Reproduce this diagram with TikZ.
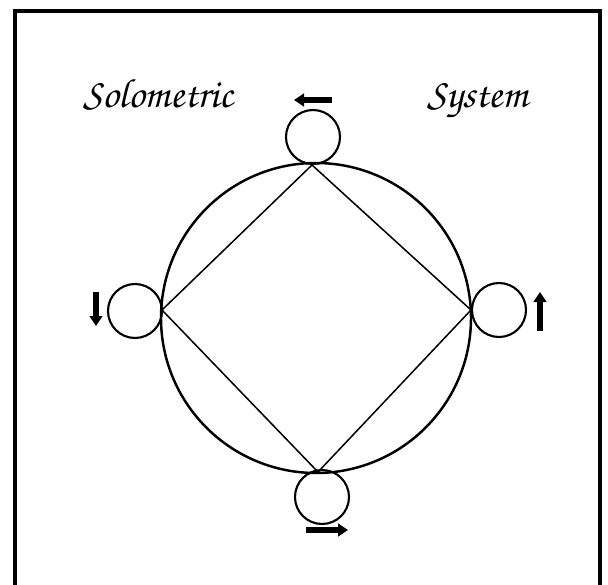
\documentclass[tikz,border=0pt]{standalone}
\usetikzlibrary{arrows.meta, positioning}
\begin{document}
\begin{tikzpicture}[
    x=0.3mm, y=-0.3mm,
    ring/.style={circle, draw, line width=2.1pt, minimum size=93mm, inner sep=0pt},
    wheel/.style={circle, draw, line width=1.8pt, minimum size=16.2mm, inner sep=0pt},
    spoke/.style={line width=1.3pt},
    push/.style={-{Triangle[length=3mm, width=3.8mm]}, line width=1.7mm},
    script/.style={font=\fontencoding{T1}\fontfamily{pzc}\fontsize{35}{40}\selectfont, anchor=base west, inner sep=0pt}
]
    \useasboundingbox (0,0) rectangle (608,585);

    % frame
    \draw[line width=2.6pt] (15,640) -- (15,11) -- (600,11) -- (600,640);

    % title
    \node[script] (solo) at (83,107) {Solometric};
    \node[script] (sys) at (427,107) {System};

    % big circle and its four points
    \node[ring] (main) at (316,318) {};
    \coordinate (pt) at (312,165);
    \coordinate (pl) at (162,310);
    \coordinate (pr) at (471,310);
    \coordinate (pb) at (318,472);

    % diamond
    \draw[spoke] (pt) -- (pr) -- (pb) -- (pl) -- cycle;

    % small circles
    \node[wheel] (wt) at (313,137) {};
    \node[wheel] (wl) at (135,311) {};
    \node[wheel] (wr) at (499,310) {};
    \node[wheel] (wb) at (322,497) {};

    % arrows
    \coordinate (at1) at (332,100); \coordinate (at2) at (294,100);
    \coordinate (al1) at (96,292);  \coordinate (al2) at (96,326);
    \coordinate (ar1) at (540,331); \coordinate (ar2) at (540,292);
    \coordinate (ab1) at (306,530); \coordinate (ab2) at (348,530);
    \draw[push] (at1) -- (at2);
    \draw[push] (al1) -- (al2);
    \draw[push] (ar1) -- (ar2);
    \draw[push] (ab1) -- (ab2);
\end{tikzpicture}
\end{document}
